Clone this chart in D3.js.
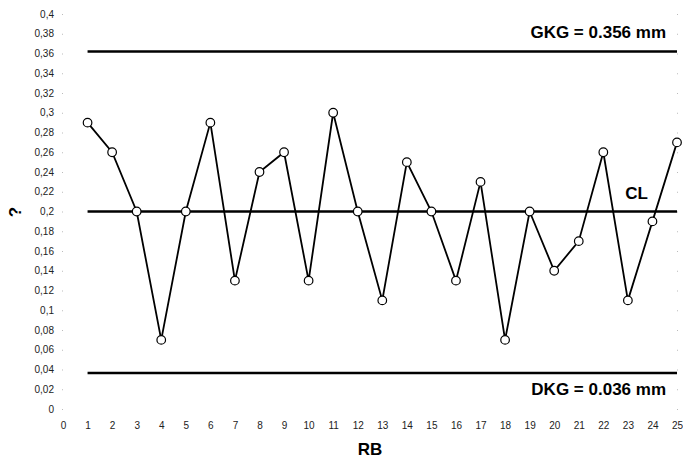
<!DOCTYPE html>
<html><head><meta charset="utf-8">
<script src="https://cdn.jsdelivr.net/npm/d3@7"></script>
<style>body{margin:0;background:#fff}svg{display:block;font-family:"Liberation Sans",Arial,sans-serif}</style>
</head><body><svg id="c" width="683" height="458"></svg>
<script>
const samples = [1,2,3,4,5,6,7,8,9,10,11,12,13,14,15,16,17,18,19,20,21,22,23,24,25];
const values = [0.29,0.26,0.20,0.07,0.20,0.29,0.13,0.24,0.26,0.13,0.30,0.20,0.11,0.25,0.20,0.13,0.23,0.07,0.20,0.14,0.17,0.26,0.11,0.19,0.27];
const yTicks = d3.range(0, 0.4001, 0.02).map(v => +v.toFixed(2));
const xTicks = d3.range(0, 26);
const limits = [
  {name:"GKG", value:0.362, label:"GKG = 0.356 mm"},
  {name:"CL", value:0.2, label:"CL"},
  {name:"DKG", value:0.0365, label:"DKG = 0.036 mm"}
];

const svg = d3.select("#c");
const x = d3.scaleLinear().domain([0,25]).range([63,677]);
const y = d3.scaleLinear().domain([0,0.4]).range([409,14]);
const fmt = v => String(v).replace(".", ",");

// y axis (left)
const ya = svg.append("g").attr("transform","translate(63,0)")
  .call(d3.axisLeft(y).tickValues(yTicks).tickFormat(fmt).tickSize(1).tickPadding(8));
ya.select(".domain").remove();
ya.selectAll("line").attr("stroke","#bbb");
ya.selectAll("text").attr("font-size","10px").attr("fill","#222").attr("font-family","Liberation Sans, Arial, sans-serif");

// right ticks
const yr = svg.append("g").attr("transform","translate(677,0)")
  .call(d3.axisRight(y).tickValues(yTicks).tickFormat("").tickSize(1));
yr.select(".domain").remove();
yr.selectAll("line").attr("stroke","#bbb");

// x axis
const xa = svg.append("g").attr("transform","translate(0,419)")
  .call(d3.axisBottom(x).tickValues(xTicks).tickFormat(d3.format("d")).tickSize(0).tickPadding(3));
xa.select(".domain").remove();
xa.selectAll("text").attr("font-size","10px").attr("fill","#222").attr("font-family","Liberation Sans, Arial, sans-serif");

// limit lines
svg.selectAll(".lim").data(limits).join("line")
  .attr("x1", x(1)).attr("x2", x(25))
  .attr("y1", d => y(d.value)).attr("y2", d => y(d.value))
  .attr("stroke","#000").attr("stroke-width",2.6);

// data line
const line = d3.line().x((d,i) => x(samples[i])).y(d => y(d));
svg.append("path").datum(values).attr("d", line)
  .attr("fill","none").attr("stroke","#000").attr("stroke-width",1.8);

svg.selectAll(".pt").data(values).join("circle")
  .attr("cx",(d,i)=>x(samples[i])).attr("cy",d=>y(d)).attr("r",4.3)
  .attr("fill","#fff").attr("stroke","#000").attr("stroke-width",1.2);

// labels
svg.append("text").attr("x",666).attr("y",y(limits[0].value)-14).attr("text-anchor","end")
  .attr("font-size","17px").attr("font-weight","bold").text(limits[0].label);
svg.append("text").attr("x",648).attr("y",y(limits[1].value)-13).attr("text-anchor","end")
  .attr("font-size","17px").attr("font-weight","bold").text(limits[1].label);
svg.append("text").attr("x",666).attr("y",y(limits[2].value)+22).attr("text-anchor","end")
  .attr("font-size","17px").attr("font-weight","bold").text(limits[2].label);

svg.append("text").attr("x",370).attr("y",455).attr("text-anchor","middle")
  .attr("font-size","17px").attr("font-weight","bold").text("RB");
svg.append("text").attr("transform","translate(21,212) rotate(-90)").attr("text-anchor","middle")
  .attr("font-size","17px").attr("font-weight","bold").text("?");
</script></body></html>
